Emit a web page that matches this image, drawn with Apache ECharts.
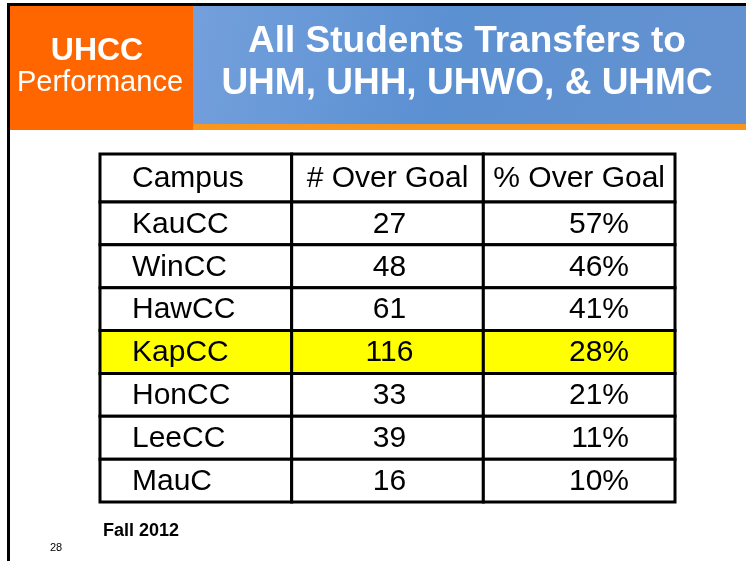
<!DOCTYPE html>
<html>
<head>
<meta charset="utf-8">
<script src="https://cdn.jsdelivr.net/npm/echarts@6/dist/echarts.min.js"></script>
<style>
    html, body { margin: 0; padding: 0; background: #fff; }
    #main { width: 746px; height: 561px; }
</style>
</head>
<body>
<div id="main"></div>
<script>
/* ============================
   DATOS
============================ */
const columns = ['Campus', '# Over Goal', '% Over Goal'];
const campuses = ['KauCC', 'WinCC', 'HawCC', 'KapCC', 'HonCC', 'LeeCC', 'MauC'];
const overGoal = [27, 48, 61, 116, 33, 39, 16];
const pctOverGoal = [57, 46, 41, 28, 21, 11, 10];
const highlightCampus = 'KapCC';
const footnote = 'Fall 2012';
const pageNumber = '28';

const FONT = "'Liberation Sans', Arial, sans-serif";

/* ============================
   CELDAS DE LA TABLA
============================ */
const headerCells = columns.map((c, ci) => ({ col: ci, row: 0, text: c, header: true }));
const bodyCells = [];
campuses.forEach((name, i) => {
    const hl = name === highlightCampus;
    bodyCells.push({ col: 0, row: i, text: name, hl: hl });
    bodyCells.push({ col: 1, row: i, text: String(overGoal[i]), hl: hl });
    bodyCells.push({ col: 2, row: i, text: pctOverGoal[i] + '%', hl: hl });
});

function makeRenderer(cells) {
    return function (params, api) {
        const cell = cells[params.dataIndex];
        const p = api.coord([api.value(0), api.value(1)]);
        const s = api.size([1, 1]);
        const x = p[0] - s[0] / 2;
        const y = p[1] - s[1] / 2;

        let tx = p[0], align = 'center';
        if (cell.col === 0) { tx = x + 32; align = 'left'; }
        else if (cell.col === 1 && !cell.header) { tx = p[0] + 2; }
        else if (cell.col === 2 && !cell.header) { tx = x + s[0] - 46; align = 'right'; }

        return {
            type: 'group',
            children: [
                {
                    type: 'rect',
                    shape: { x: x, y: y, width: s[0], height: s[1] },
                    style: { fill: cell.hl ? '#ffff00' : '#ffffff', stroke: '#000', lineWidth: 3 }
                },
                {
                    type: 'text',
                    style: {
                        text: cell.text, x: tx, y: p[1] + 1,
                        align: align, verticalAlign: 'middle',
                        font: '30px ' + FONT, fill: '#000'
                    }
                }
            ]
        };
    };
}

/* ============================
   GRAFICA
============================ */
const chart = echarts.init(document.getElementById('main'));

const option = {
    animation: false,
    grid: [
        { left: 100, top: 154, width: 575, height: 48 },
        { left: 100, top: 202, width: 575, height: 300 }
    ],
    xAxis: [
        { type: 'category', data: columns, show: false, gridIndex: 0 },
        { type: 'category', data: columns, show: false, gridIndex: 1 }
    ],
    yAxis: [
        { type: 'category', data: ['header'], inverse: true, show: false, gridIndex: 0 },
        { type: 'category', data: campuses, inverse: true, show: false, gridIndex: 1 }
    ],
    graphic: [
        // marco de la diapositiva
        { type: 'rect', shape: { x: 7, y: 3, width: 739, height: 3 }, style: { fill: '#000' } },
        { type: 'rect', shape: { x: 7, y: 3, width: 3, height: 558 }, style: { fill: '#000' } },
        // encabezado
        { type: 'rect', shape: { x: 10, y: 6, width: 183, height: 124 }, style: { fill: '#ff6600' } },
        {
            type: 'rect', shape: { x: 193, y: 6, width: 553, height: 118 },
            style: {
                fill: new echarts.graphic.LinearGradient(0, 0, 1, 1, [
                    { offset: 0, color: '#74a0dc' },
                    { offset: 0.45, color: '#5b90d2' },
                    { offset: 1, color: '#6592cf' }
                ])
            }
        },
        { type: 'rect', shape: { x: 193, y: 124, width: 553, height: 6 }, style: { fill: '#f8961e' } },
        { type: 'text', style: { text: 'UHCC', x: 97, y: 51, align: 'center', verticalAlign: 'middle', font: 'bold 32px ' + FONT, fill: '#fff' } },
        { type: 'text', style: { text: 'Performance', x: 100, y: 83, align: 'center', verticalAlign: 'middle', font: '29px ' + FONT, fill: '#fff' } },
        { type: 'text', style: { text: 'All Students Transfers to', x: 467, y: 42, align: 'center', verticalAlign: 'middle', font: 'bold 37px ' + FONT, fill: '#fff' } },
        { type: 'text', style: { text: 'UHM, UHH, UHWO, & UHMC', x: 467, y: 84, align: 'center', verticalAlign: 'middle', font: 'bold 37px ' + FONT, fill: '#fff' } },
        // pie de pagina
        { type: 'text', style: { text: footnote, x: 103, y: 531, verticalAlign: 'middle', font: 'bold 18px ' + FONT, fill: '#000' } },
        { type: 'text', style: { text: pageNumber, x: 50, y: 548, verticalAlign: 'middle', font: '11px ' + FONT, fill: '#000' } }
    ],
    series: [
        {
            type: 'custom', xAxisIndex: 0, yAxisIndex: 0,
            renderItem: makeRenderer(headerCells),
            data: headerCells.map(c => [c.col, c.row]), z: 2
        },
        {
            type: 'custom', xAxisIndex: 1, yAxisIndex: 1,
            renderItem: makeRenderer(bodyCells),
            data: bodyCells.map(c => [c.col, c.row]), z: 2
        }
    ]
};

chart.setOption(option);
</script>
</body>
</html>
